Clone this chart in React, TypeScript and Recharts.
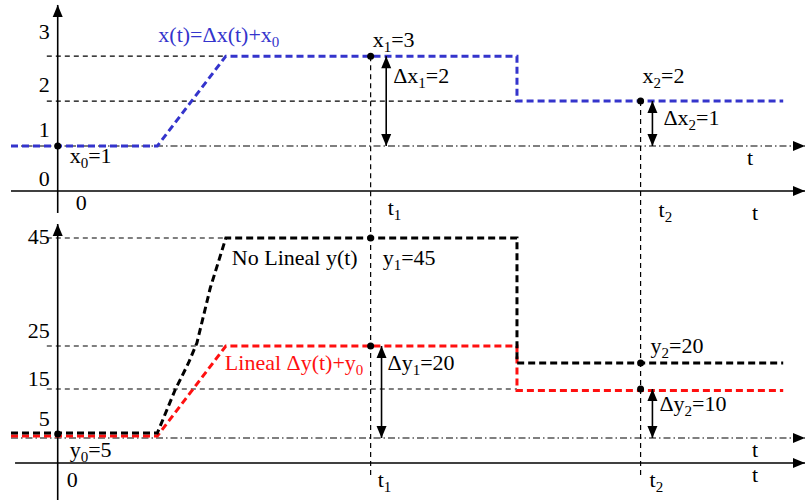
import { LineChart, Line, XAxis, YAxis, ReferenceLine, ReferenceDot } from "recharts";

// time axis (arbitrary units, origin on the vertical axis)
const tStart = -1.5;
const tEnd = 24;
const tRise = 3.2;
const tTop = 5.4;
const tDrop = 14.75;
const tLast = 23.3;
const t1 = 10.05;
const t2 = 18.72;

// upper panel: x(t) = Δx(t) + x0
const xTimes = [tStart, tRise, tTop, tDrop, tDrop, tLast];
const xValues = [1, 1, 3, 3, 2, 2];
const xTicks = [0, 1, 2, 3];
const x0 = 1;
const x1 = 3;
const x2 = 2;

// lower panel: non linear y(t) and linear Δy(t) + y0
const noLinealTimes = [tStart, tRise, 3.77, 4.2, 4.47, 4.9, tTop, tDrop, tDrop, tLast];
const noLinealValues = [6, 6, 14.6, 20, 24, 35, 45, 45, 20, 20];
const linealTimes = [tStart, tRise, tTop, tDrop, tDrop, tLast];
const linealValues = [5.4, 5.4, 23.4, 23.4, 14.5, 14.5];
const yLevels = [5, 14.8, 23.4, 45];
const yTickLabels = ["5", "15", "25", "45"];
const y0 = 5;
const y0Dot = 5.8;
const y1 = 45;
const y1Lin = 23.4;
const y2 = 20;
const y2Lin = 14.8;

const xData = xTimes.map((t, i) => ({ t, v: xValues[i] }));
const noLinealData = noLinealTimes.map((t, i) => ({ t, v: noLinealValues[i] }));
const linealData = linealTimes.map((t, i) => ({ t, v: linealValues[i] }));

const FONT = "'Liberation Serif', 'Times New Roman', serif";
const BLUE = "#3434cc";
const RED = "#ff1010";
const W = 805;

function Sub({ x, y, text, fill = "#000", anchor = "start" }: any) {
  const parts = String(text).split(/_(.)/);
  return (
    <text
      x={x}
      y={y}
      fill={fill}
      fontSize={22}
      fontFamily={FONT}
      style={{ fontFamily: FONT }}
      textAnchor={anchor}
    >
      {parts.map((p, i) =>
        i % 2 === 1 ? (
          <tspan key={i} dy={5} fontSize={15}>{p}</tspan>
        ) : (
          <tspan key={i} dy={i > 0 ? -5 : 0}>{p}</tspan>
        )
      )}
    </text>
  );
}

const arrow = (both: boolean, color = "#000", width = 1.5, dash?: string) => (p: any) => {
  const { x1: ax, y1: ay, x2: bx, y2: by } = p;
  const a = Math.atan2(by - ay, bx - ax);
  const L = 12;
  const H = 5;
  const head = (x: number, y: number, ang: number) => {
    const c = Math.cos(ang);
    const s = Math.sin(ang);
    return `${x},${y} ${x - L * c + H * s},${y - L * s - H * c} ${x - L * c - H * s},${y - L * s + H * c}`;
  };
  return (
    <g>
      <line x1={ax} y1={ay} x2={bx} y2={by} stroke={color} strokeWidth={width} strokeDasharray={dash} />
      <polygon points={head(bx, by, a)} fill={color} />
      {both && <polygon points={head(ax, ay, a + Math.PI)} fill={color} />}
    </g>
  );
};

function label(t: number, v: number, dx: number, dy: number, text: string, fill?: string, anchor?: string) {
  return (
    <ReferenceDot
      key={`${text}-${t}-${v}`}
      x={t}
      y={v}
      ifOverflow="visible"
      shape={(p: any) => <Sub x={p.cx + dx} y={p.cy + dy} text={text} fill={fill} anchor={anchor} />}
    />
  );
}

function dot(t: number, v: number) {
  return <ReferenceDot key={`d-${t}-${v}`} x={t} y={v} r={3.5} fill="#000" stroke="none" ifOverflow="visible" />;
}

function seg(ta: number, va: number, tb: number, vb: number, dash = "5 4", shape?: any) {
  return (
    <ReferenceLine
      key={`s-${ta}-${va}-${tb}-${vb}`}
      segment={[{ x: ta, y: va }, { x: tb, y: vb }]}
      stroke="#000"
      strokeWidth={1.2}
      strokeDasharray={dash}
      ifOverflow="visible"
      shape={shape}
    />
  );
}

const DASHDOT = "7 3 1.5 3";
const xTickNudge = [-5, -9, -9, -17];
const yTickNudge = [-12, -3, -8, 6];

function TopPanel() {
  return (
    <LineChart width={W} height={226} margin={{ top: 0, right: 0, bottom: 0, left: 11 }}>
      <XAxis type="number" dataKey="t" domain={[tStart, tEnd]} allowDataOverflow hide />
      <YAxis type="number" domain={[-0.78, 4.25]} allowDataOverflow hide />
      {seg(-0.35, x1, tTop, x1)}
      {seg(-0.35, x2, tDrop, x2)}
      {seg(t1, x1, t1, -0.6)}
      {seg(t2, x2, t2, -0.6)}
      {seg(tStart, x0, tEnd, x0, DASHDOT, arrow(false, "#000", 1.2, DASHDOT))}
      {seg(tStart, 0, tEnd, 0, undefined, arrow(false, "#000", 1.6))}
      {seg(0, -0.49, 0, 4.14, undefined, arrow(false, "#000", 1.6))}
      <Line
        data={xData}
        dataKey="v"
        type="linear"
        stroke={BLUE}
        strokeWidth={3}
        strokeDasharray="7 4"
        dot={false}
        activeDot={false}
        isAnimationActive={false}
      />
      {dot(0, x0)}
      {dot(t1, x1)}
      {dot(t2, x2)}
      {seg(10.55, x1, 10.55, x0, undefined, arrow(true, "#000", 1.6))}
      {seg(19.1, x2, 19.1, x0, undefined, arrow(true, "#000", 1.6))}
      {xTicks.map((v, i) => label(0, v, -8, xTickNudge[i], String(v), undefined, "end"))}
      {label(tRise, x1, 1, -14, "x(t)=Δx(t)+x_0", BLUE)}
      {label(t1, x1, 2, -9, "x_1=3")}
      {label(10.55, x2, 7, -18, "Δx_1=2")}
      {label(t2, x2, 2, -18, "x_2=2")}
      {label(19.1, x2, 11, 24, "Δx_2=1")}
      {label(0, x0, 12, 17, "x_0=1")}
      {label(tEnd, x0, -58, 19, "t")}
      {label(tEnd, 0, -53, 29, "t")}
      {label(0, 0, 18, 19, "0")}
      {label(t1, 0, 17, 24, "t_1")}
      {label(t2, 0, 18, 26, "t_2")}
    </LineChart>
  );
}

function BottomPanel() {
  return (
    <div style={{ marginTop: -8 }}>
      <LineChart width={W} height={282} margin={{ top: 0, right: 0, bottom: 0, left: 11 }}>
        <XAxis type="number" dataKey="t" domain={[tStart, tEnd]} allowDataOverflow hide />
        <YAxis type="number" domain={[-7.4, 49]} allowDataOverflow hide />
        {seg(-0.35, y1, tTop, y1)}
        {seg(-0.35, y1Lin, tTop, y1Lin)}
        {seg(-0.35, y2Lin, tDrop, y2Lin)}
        {seg(t1, 49, t1, -2.4)}
        {seg(t2, 49, t2, -2.4)}
        {seg(tStart, y0, tEnd, y0, DASHDOT, arrow(false, "#000", 1.2, DASHDOT))}
        {seg(-1.37, 0, tEnd, 0, undefined, arrow(false, "#000", 1.6))}
        {seg(0, -7.4, 0, 47.8, undefined, arrow(false, "#000", 1.6))}
        <Line
          data={linealData}
          dataKey="v"
          type="linear"
          stroke={RED}
          strokeWidth={3}
          strokeDasharray="7 4"
          dot={false}
          activeDot={false}
          isAnimationActive={false}
        />
        <Line
          data={noLinealData}
          dataKey="v"
          type="linear"
          stroke="#000"
          strokeWidth={3}
          strokeDasharray="7 4"
          dot={false}
          activeDot={false}
          isAnimationActive={false}
        />
        {dot(0, y0Dot)}
        {dot(t1, y1)}
        {dot(t1, y1Lin)}
        {dot(t2, y2)}
        {dot(t2, y2Lin)}
        {seg(10.4, y1Lin, 10.4, y0, undefined, arrow(true, "#000", 1.6))}
        {seg(19.1, y2Lin, 19.1, y0, undefined, arrow(true, "#000", 1.6))}
        {yLevels.map((v, i) => label(0, v, -8, yTickNudge[i], yTickLabels[i], undefined, "end"))}
        {label(tTop, y1, 6, 27, "No Lineal y(t)")}
        {label(t1, y1, 12, 27, "y_1=45")}
        {label(tTop, y1Lin, -1, 24, "Lineal Δy(t)+y_0", RED)}
        {label(10.4, y1Lin, 6, 24, "Δy_1=20")}
        {label(t2, y2, 10, -10, "y_2=20")}
        {label(19.1, y2Lin, 7, 22, "Δy_2=10")}
        {label(0, y0, 12, 19, "y_0=5")}
        {label(0, 0, 9, 24, "0")}
        {label(t1, 0, 7, 24, "t_1")}
        {label(t2, 0, 9, 24, "t_2")}
        {label(tEnd, y0, -53, 19, "t")}
        {label(tEnd, 0, -53, 19, "t")}
      </LineChart>
    </div>
  );
}

export default function App() {
  return (
    <div style={{ position: "absolute", left: 0, top: 0, width: W, height: 500, background: "#fff" }}>
      <TopPanel />
      <BottomPanel />
    </div>
  );
}
